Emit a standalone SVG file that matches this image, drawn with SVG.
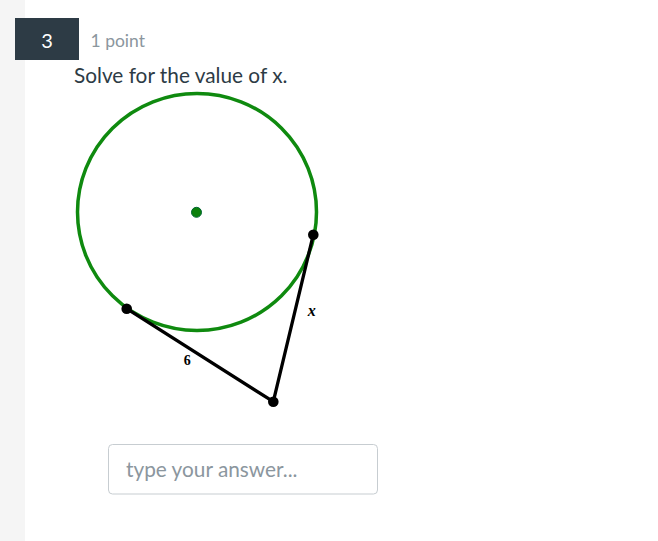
<svg xmlns="http://www.w3.org/2000/svg" width="658" height="541" viewBox="0 0 658 541">
<style>
.ui{font-family:Lato,"Open Sans",sans-serif}
.pt{fill:#000}
.seg{stroke:#000;stroke-width:3.3;stroke-linecap:round}
.lbl{font-family:"Liberation Serif","DejaVu Serif",serif;font-weight:bold;fill:#000}
</style>
<rect x="0" y="0" width="658" height="541" fill="#fff"/>
<rect x="0" y="0" width="25" height="541" fill="#f5f5f5"/>
<g id="header">
<rect x="15" y="18" width="64" height="42" fill="#2d3b45"/>
<text x="47" y="47.5" class="ui" font-size="20" fill="#fff" text-anchor="middle">3</text>
<text x="90.5" y="46.5" class="ui" font-size="17.5" fill="#8b969e">1 point</text>
<text x="74" y="83" class="ui" font-size="20.8" fill="#2d3b45">Solve for the value of x.</text>
</g>
<g id="circle">
<ellipse cx="197" cy="212" rx="119.5" ry="118.5" fill="none" stroke="#0f8a0f" stroke-width="3.5"/>
<circle cx="196.5" cy="212.3" r="5" fill="#0b800b" stroke="#063" stroke-width="1"/>
</g>
<g id="connectors">
<line class="seg" x1="126.7" y1="308.7" x2="273.3" y2="401.7"/>
<line class="seg" x1="313.3" y1="234.7" x2="273.3" y2="401.7"/>
</g>
<g id="pointA"><circle class="pt" cx="126.7" cy="308.7" r="5.3"/></g>
<g id="pointB"><circle class="pt" cx="313.3" cy="234.7" r="5.3"/></g>
<g id="pointC"><circle class="pt" cx="273.3" cy="401.7" r="5.3"/></g>
<g id="labels">
<text class="lbl" x="187.3" y="365" font-size="14" text-anchor="middle">6</text>
<text class="lbl" x="311.7" y="316" font-size="16" text-anchor="middle" font-style="italic">x</text>
</g>
<g id="answer">
<rect x="108.5" y="444.5" width="269" height="49.5" rx="4" fill="#fff" stroke="#c7cdd1" stroke-width="1"/>
<text x="126" y="476.5" class="ui" font-size="20.8" fill="#8b969e">type your answer...</text>
</g>
</svg>
